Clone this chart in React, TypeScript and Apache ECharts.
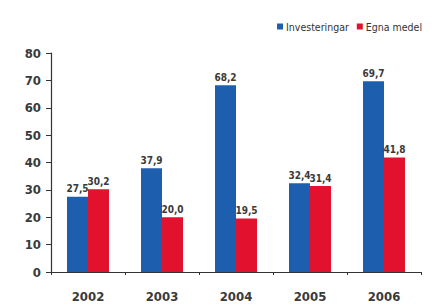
import React, { useEffect, useRef } from "react";
import * as echarts from "echarts";

const years = ["2002", "2003", "2004", "2005", "2006"];
const investeringar = [27.5, 37.9, 68.2, 32.4, 69.7];
const egnaMedel = [30.2, 20.0, 19.5, 31.4, 41.8];
const yTicks = { min: 0, max: 80, interval: 10 };

const FONT = "'DejaVu Sans Condensed', 'Liberation Sans Narrow', 'Noto Sans', sans-serif";
const fmt = (v: number) => v.toFixed(1).replace(".", ",");

export default function App() {
  const ref = useRef<HTMLDivElement>(null);
  useEffect(() => {
    if (!ref.current) return;
    const chart = echarts.init(ref.current, null, { renderer: "svg" });
    const label = {
      show: true,
      position: "top" as const,
      distance: 3,
      fontFamily: FONT,
      fontSize: 10,
      fontWeight: "bold" as const,
      color: "#3a3a3a",
      formatter: (p: any) => fmt(p.value),
    };
    chart.setOption({
      animation: false,
      backgroundColor: "#fff",
      legend: {
        right: 8,
        top: 16,
        itemWidth: 6,
        itemHeight: 6,
        itemGap: 8,
        icon: "rect",
        textStyle: { fontFamily: FONT, fontSize: 10.5, color: "#333", padding: [0, 0, 0, -2] },
        data: ["Investeringar", "Egna medel"],
      },
      grid: { left: 51, right: 14, top: 53, bottom: 35, containLabel: false },
      xAxis: {
        type: "category",
        data: years,
        axisLine: { lineStyle: { color: "#333", width: 1.2 } },
        axisTick: { show: true, length: 3, lineStyle: { color: "#333" } },
        axisLabel: {
          fontFamily: FONT,
          fontSize: 13,
          fontWeight: "bold",
          color: "#3a3a3a",
          margin: 18,
        },
      },
      yAxis: {
        type: "value",
        min: yTicks.min,
        max: yTicks.max,
        interval: yTicks.interval,
        axisLine: { show: true, lineStyle: { color: "#333", width: 1.2 } },
        axisTick: { show: true, length: 5, lineStyle: { color: "#333" } },
        splitLine: { show: false },
        axisLabel: {
          fontFamily: FONT,
          fontSize: 13,
          fontWeight: "bold",
          color: "#3a3a3a",
          margin: 10,
        },
      },
      series: [
        {
          name: "Investeringar",
          type: "bar",
          data: investeringar,
          barWidth: 21,
          barGap: "0%",
          itemStyle: { color: "#1d5fae" },
          label,
        },
        {
          name: "Egna medel",
          type: "bar",
          data: egnaMedel,
          barWidth: 21,
          barGap: "0%",
          itemStyle: { color: "#e2112d" },
          label,
        },
      ],
    });
    return () => chart.dispose();
  }, []);
  return <div ref={ref} style={{ width: 435, height: 307, position: "absolute", left: 0, top: 0 }} />;
}
